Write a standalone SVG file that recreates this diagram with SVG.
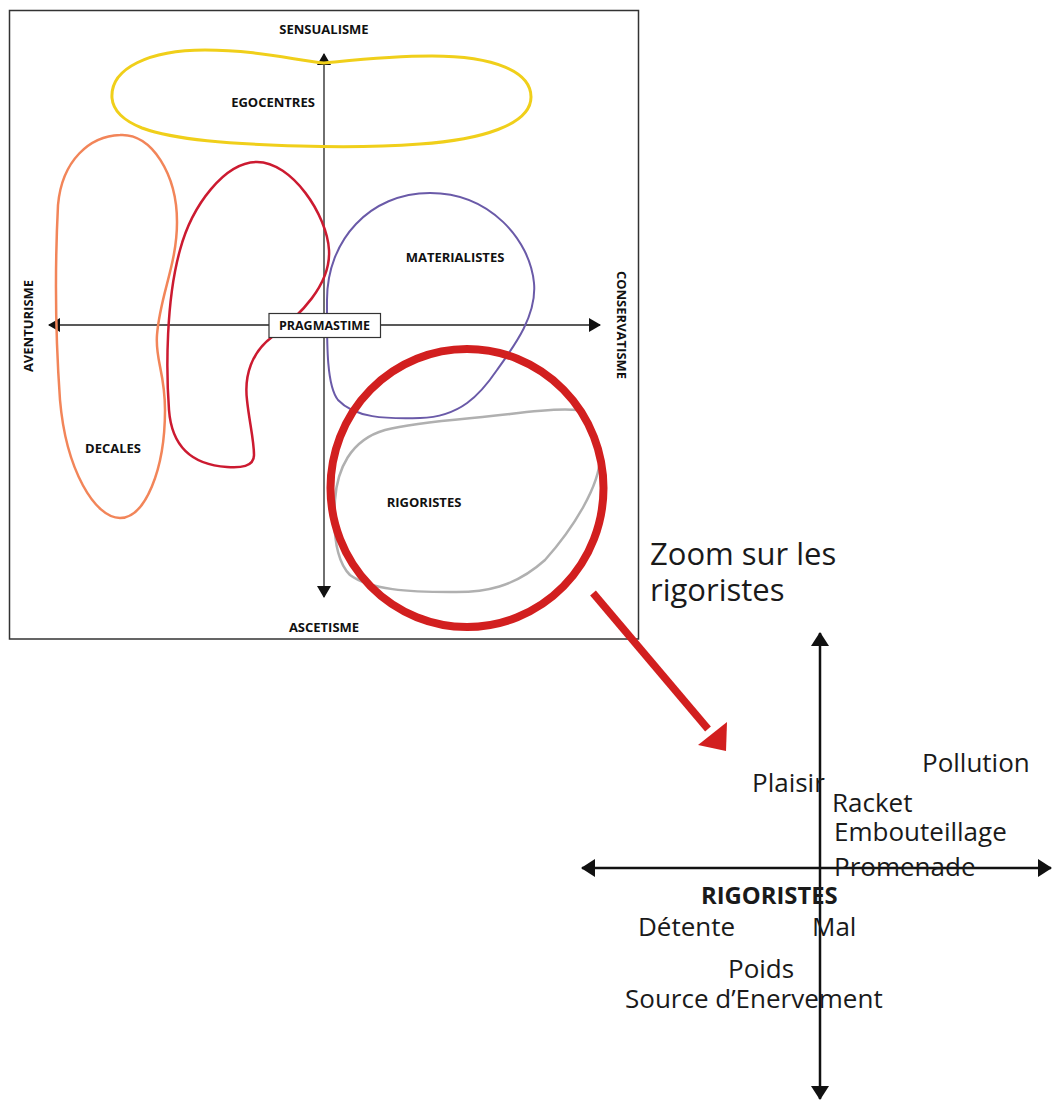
<svg xmlns="http://www.w3.org/2000/svg" width="1052" height="1101" viewBox="0 0 1052 1101">
<style>
.lbl{font-family:"Open Sans","Liberation Sans",sans-serif;font-weight:bold;font-size:13px;fill:#111;text-anchor:middle}
.axis{stroke:#222;stroke-width:1.3;fill:none}
.blob{fill:none}
.big{font-family:"Open Sans","Liberation Sans",sans-serif;font-size:31px;fill:#1a1a1a}
.word{font-family:"Open Sans","Liberation Sans",sans-serif;font-size:26px;fill:#1a1a1a}
.word.bold{font-weight:bold;font-size:23.8px}
.lbl.small{font-size:12.5px}
.axis2{stroke:#111;stroke-width:2.5;fill:none}
</style>
<defs>
<marker id="ah" viewBox="0 0 12 14" refX="11" refY="7" markerWidth="12" markerHeight="14" markerUnits="userSpaceOnUse" orient="auto-start-reverse">
<path d="M0,0 L12,7 L0,14 Z" fill="#111"/>
</marker>
<marker id="ah2" viewBox="0 0 14 18" refX="13" refY="9" markerWidth="14" markerHeight="18" markerUnits="userSpaceOnUse" orient="auto-start-reverse">
<path d="M0,0 L14,9 L0,18 Z" fill="#111"/>
</marker>
</defs>
<rect width="1052" height="1101" fill="#fff"/>
<rect id="frame" x="9.5" y="10.5" width="629" height="628.5" fill="none" stroke="#333" stroke-width="1.5"/>

<g id="connectors">
<line class="axis" x1="324" y1="54" x2="324" y2="597" marker-start="url(#ah)" marker-end="url(#ah)"/>
<line class="axis" x1="49" y1="325" x2="600" y2="325" marker-start="url(#ah)" marker-end="url(#ah)"/>
<line class="axis2" x1="820" y1="633" x2="820" y2="1099" marker-start="url(#ah2)" marker-end="url(#ah2)"/>
<line class="axis2" x1="582" y1="868" x2="1051" y2="868" marker-start="url(#ah2)" marker-end="url(#ah2)"/>
<line x1="593" y1="593" x2="708" y2="729" stroke="#d21f1f" stroke-width="7.5"/>
<path d="M727,722 L726,751 L698,745 Z" fill="#d21f1f"/>
</g>

<g id="egocentres">
<path class="blob" stroke="#f0cf1a" stroke-width="3" d="M112,98 C110,68 150,50 205,50 C255,50 295,60 324,63 C355,60 390,56 432,56 C495,56 531,72 531,97 C531,125 480,140 420,144 C380,147 330,147 300,146 C230,144 175,140 142,128 C122,120 113,110 112,98 Z"/>
<text class="lbl" x="273" y="106.5">EGOCENTRES</text>
</g>

<g id="decales">
<path class="blob" stroke="#f28559" stroke-width="2.5" d="M120,135 C152,133 177,175 177,222 C177,265 160,295 157,335 C155,360 165,372 165,410 C165,470 145,518 120,518 C95,518 66,470 60,400 C55,330 55,265 58,205 C62,160 90,136 120,135 Z"/>
<text class="lbl" x="113" y="452.5">DECALES</text>
</g>

<g id="pragmatisme">
<path class="blob" stroke="#cc1a30" stroke-width="2.5" d="M257,162 C292,162 327,215 329,250 C331,285 300,315 272,337 C252,352 244,375 247,400 C249,420 254,440 254,455 C254,467 240,468 227,467 C195,465 172,450 169,410 C166,370 166,300 180,250 C192,205 225,162 257,162 Z"/>
</g>

<g id="materialistes">
<path class="blob" stroke="#6a5aa8" stroke-width="2" d="M430,193 C490,193 530,240 534,283 C537,315 515,345 497,370 C480,395 460,417 420,418 C385,419 355,418 338,400 C326,385 327,340 327,300 C327,240 370,193 430,193 Z"/>
<text class="lbl" x="455" y="261.5">MATERIALISTES</text>
</g>

<g id="rigoristes">
<path class="blob" stroke="#b0b0b0" stroke-width="2.5" d="M578,410 C588,418 598,435 600,455 C601,485 572,530 545,560 C515,587 485,593 450,592 C410,592 370,590 350,575 C335,560 333,530 335,500 C337,470 350,440 385,430 C420,421 470,419 510,414 C540,410 560,408 578,410 Z"/>
<text class="lbl" x="424" y="506.5">RIGORISTES</text>
</g>

<g id="pragmastime-box">
<rect x="269" y="313.5" width="111.5" height="24" fill="#fff" stroke="#333" stroke-width="1.2"/>
<text class="lbl small" x="324.5" y="330">PRAGMASTIME</text>
</g>

<g id="axis-labels">
<text class="lbl" x="324" y="33.5">SENSUALISME</text>
<text class="lbl" x="324" y="632">ASCETISME</text>
<text class="lbl" transform="translate(32.5,326) rotate(-90)">AVENTURISME</text>
<text class="lbl" transform="translate(616.5,325) rotate(90)">CONSERVATISME</text>
</g>

<g id="loupe">
<ellipse cx="467" cy="488" rx="136.5" ry="139" fill="none" stroke="#d21f1f" stroke-width="8"/>
</g>

<g id="zoom-title">
<text class="big" x="650" y="565">Zoom sur les</text>
<text class="big" x="650" y="601">rigoristes</text>
</g>

<g id="zoom-chart">
<text class="word" x="922" y="772">Pollution</text>
<text class="word" x="752" y="792">Plaisir</text>
<text class="word" x="832" y="812">Racket</text>
<text class="word" x="834" y="841">Embouteillage</text>
<text class="word" x="834" y="876">Promenade</text>
<text class="word bold" x="701" y="904">RIGORISTES</text>
<text class="word" x="638" y="936">Détente</text>
<text class="word" x="812" y="936">Mal</text>
<text class="word" x="728" y="978">Poids</text>
<text class="word" x="625" y="1008">Source d’Enervement</text>
</g>
</svg>
